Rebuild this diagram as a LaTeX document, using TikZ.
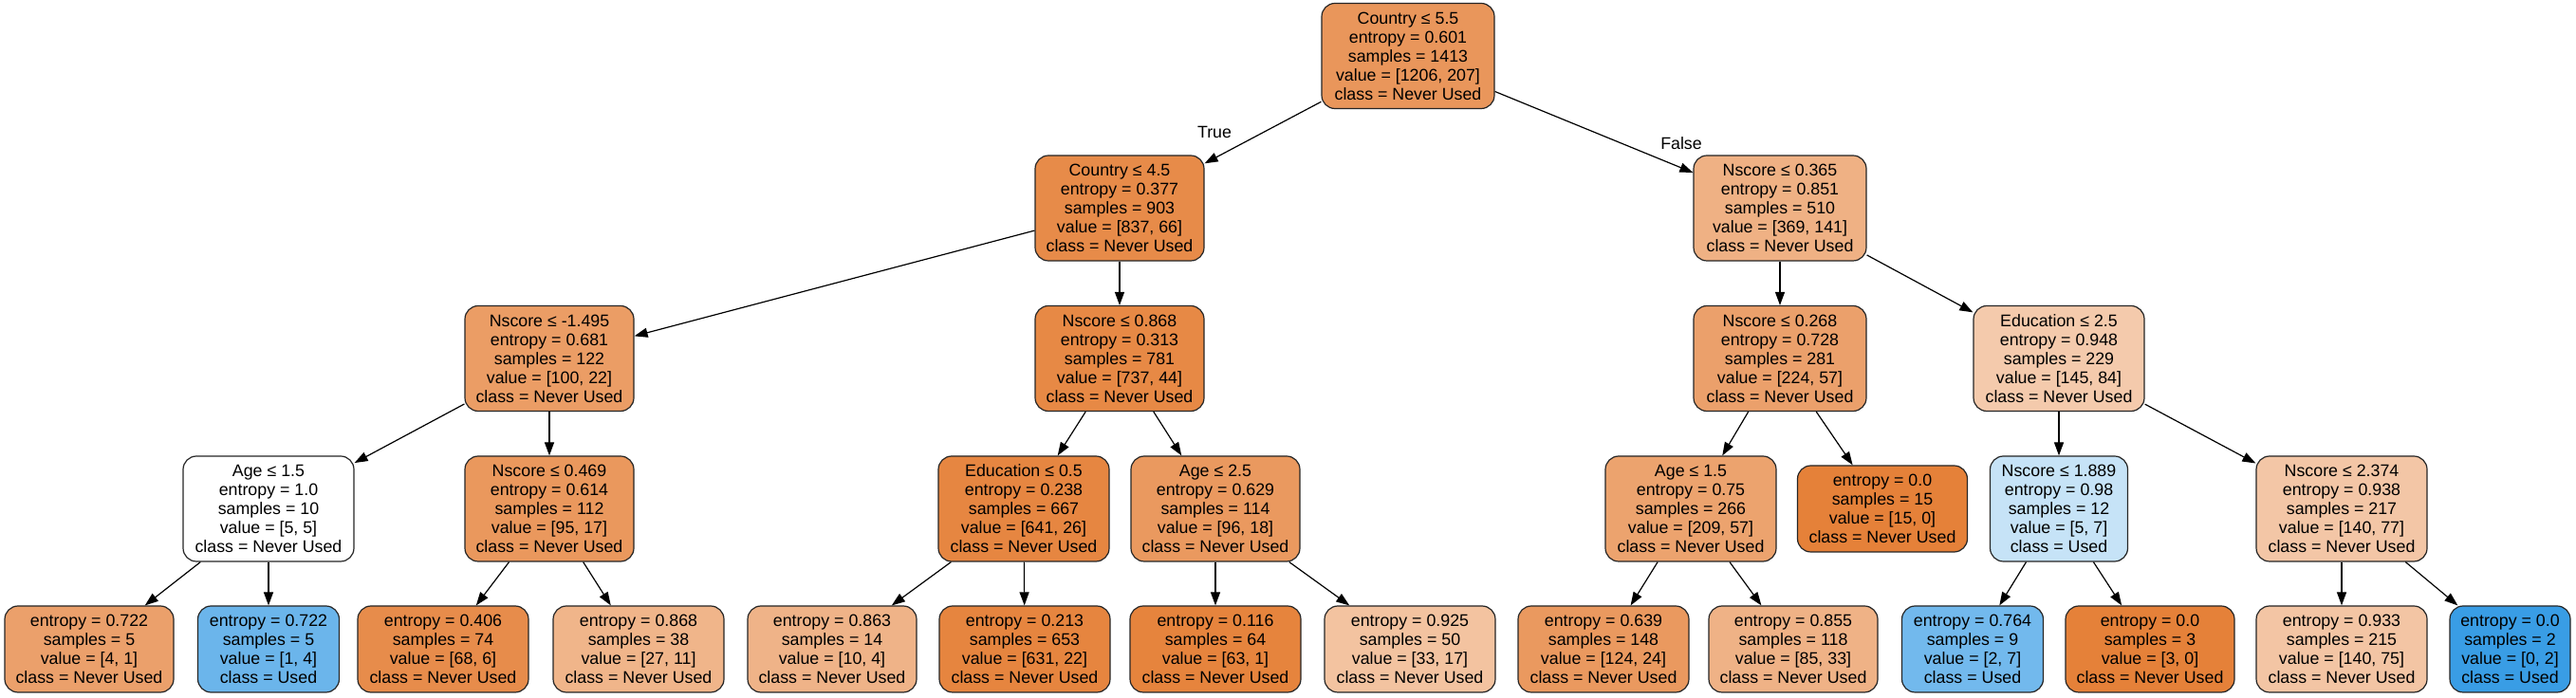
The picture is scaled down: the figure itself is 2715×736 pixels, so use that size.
\documentclass[tikz,border=0pt]{standalone}
\usepackage{fontspec}
\setmainfont{Liberation Sans}
\usetikzlibrary{arrows.meta}
\definecolor{orng}{RGB}{229,129,57}
\definecolor{blu}{RGB}{57,157,229}
\begin{document}
\begin{tikzpicture}[x=1pt,y=1pt,
  tn/.style={draw=black!85, line width=1.2pt, rounded corners=14pt, align=center,
    font=\fontsize{17.8}{20}\selectfont, minimum height=111pt, minimum width=180pt, inner sep=3pt},
  lf/.style={tn, minimum height=91pt},
  ed/.style={-{Triangle[length=14pt,width=10pt]}, line width=1.2pt, black},
  elab/.style={font=\fontsize{17.8}{20}\selectfont}
]
\useasboundingbox[fill=white] (0,0) rectangle (2715,736);
% level 0
\node[tn, fill=orng!83!white, minimum width=182pt] (r) at (1484,677) {Country ≤ 5.5\\entropy = 0.601\\samples = 1413\\value = [1206, 207]\\class = Never Used};
% level 1
\node[tn, fill=orng!92!white, minimum width=178pt] (a) at (1180,516.5) {Country ≤ 4.5\\entropy = 0.377\\samples = 903\\value = [837, 66]\\class = Never Used};
\node[tn, fill=orng!62!white, minimum width=182pt] (b) at (1876,516.5) {Nscore ≤ 0.365\\entropy = 0.851\\samples = 510\\value = [369, 141]\\class = Never Used};
% level 2
\node[tn, fill=orng!78!white, minimum width=178pt] (c) at (579,358) {Nscore ≤ -1.495\\entropy = 0.681\\samples = 122\\value = [100, 22]\\class = Never Used};
\node[tn, fill=orng!94!white, minimum width=178pt] (d) at (1180,358) {Nscore ≤ 0.868\\entropy = 0.313\\samples = 781\\value = [737, 44]\\class = Never Used};
\node[tn, fill=orng!75!white, minimum width=182pt] (e) at (1876,358) {Nscore ≤ 0.268\\entropy = 0.728\\samples = 281\\value = [224, 57]\\class = Never Used};
\node[tn, fill=orng!42!white, minimum width=180pt] (f) at (2170,358) {Education ≤ 2.5\\entropy = 0.948\\samples = 229\\value = [145, 84]\\class = Never Used};
% level 3
\node[tn, fill=white, minimum width=180pt] (g) at (283,199.5) {Age ≤ 1.5\\entropy = 1.0\\samples = 10\\value = [5, 5]\\class = Never Used};
\node[tn, fill=orng!82!white, minimum width=178pt] (h) at (579,199.5) {Nscore ≤ 0.469\\entropy = 0.614\\samples = 112\\value = [95, 17]\\class = Never Used};
\node[tn, fill=orng!96!white, minimum width=180pt] (i) at (1079,199.5) {Education ≤ 0.5\\entropy = 0.238\\samples = 667\\value = [641, 26]\\class = Never Used};
\node[tn, fill=orng!81!white, minimum width=178pt] (j) at (1281,199.5) {Age ≤ 2.5\\entropy = 0.629\\samples = 114\\value = [96, 18]\\class = Never Used};
\node[tn, fill=orng!73!white, minimum width=180pt] (k) at (1782,199.5) {Age ≤ 1.5\\entropy = 0.75\\samples = 266\\value = [209, 57]\\class = Never Used};
\node[lf, fill=orng, minimum width=179pt] (l) at (1984,199.5) {entropy = 0.0\\samples = 15\\value = [15, 0]\\class = Never Used};
\node[tn, fill=blu!29!white, minimum width=145pt] (m) at (2170,199.5) {Nscore ≤ 1.889\\entropy = 0.98\\samples = 12\\value = [5, 7]\\class = Used};
\node[tn, fill=orng!45!white, minimum width=180pt] (n) at (2468,199.5) {Nscore ≤ 2.374\\entropy = 0.938\\samples = 217\\value = [140, 77]\\class = Never Used};
% level 4 leaves
\node[lf, fill=orng!75!white, minimum width=178pt] (l1) at (94,51.5) {entropy = 0.722\\samples = 5\\value = [4, 1]\\class = Never Used};
\node[lf, fill=blu!75!white, minimum width=149pt] (l2) at (283,51.5) {entropy = 0.722\\samples = 5\\value = [1, 4]\\class = Used};
\node[lf, fill=orng!91!white, minimum width=180pt] (l3) at (467,51.5) {entropy = 0.406\\samples = 74\\value = [68, 6]\\class = Never Used};
\node[lf, fill=orng!59!white, minimum width=180pt] (l4) at (673,51.5) {entropy = 0.868\\samples = 38\\value = [27, 11]\\class = Never Used};
\node[lf, fill=orng!60!white, minimum width=178pt] (l5) at (877,51.5) {entropy = 0.863\\samples = 14\\value = [10, 4]\\class = Never Used};
\node[lf, fill=orng!97!white, minimum width=180pt] (l6) at (1080,51.5) {entropy = 0.213\\samples = 653\\value = [631, 22]\\class = Never Used};
\node[lf, fill=orng!98!white, minimum width=180pt] (l7) at (1281,51.5) {entropy = 0.116\\samples = 64\\value = [63, 1]\\class = Never Used};
\node[lf, fill=orng!48!white, minimum width=180pt] (l8) at (1486,51.5) {entropy = 0.925\\samples = 50\\value = [33, 17]\\class = Never Used};
\node[lf, fill=orng!81!white, minimum width=180pt] (l9) at (1690,51.5) {entropy = 0.639\\samples = 148\\value = [124, 24]\\class = Never Used};
\node[lf, fill=orng!61!white, minimum width=178pt] (l10) at (1890,51.5) {entropy = 0.855\\samples = 118\\value = [85, 33]\\class = Never Used};
\node[lf, fill=blu!71!white, minimum width=149pt] (l11) at (2079,51.5) {entropy = 0.764\\samples = 9\\value = [2, 7]\\class = Used};
\node[lf, fill=orng, minimum width=178pt] (l12) at (2266,51.5) {entropy = 0.0\\samples = 3\\value = [3, 0]\\class = Never Used};
\node[lf, fill=orng!46!white, minimum width=180pt] (l13) at (2468,51.5) {entropy = 0.933\\samples = 215\\value = [140, 75]\\class = Never Used};
\node[lf, fill=blu, minimum width=127pt] (l14) at (2645.5,51.5) {entropy = 0.0\\samples = 2\\value = [0, 2]\\class = Used};
% edge labels
\node[elab] (tt) at (1280,597) {True};
\node[elab] (ff) at (1772,585) {False};
% edges
\draw[ed] (r) -- (a);
\draw[ed] (r) -- (b);
\draw[ed] (a) -- (c);
\draw[ed] (a) -- (d);
\draw[ed] (b) -- (e);
\draw[ed] (b) -- (f);
\draw[ed] (c) -- (g);
\draw[ed] (c) -- (h);
\draw[ed] (d) -- (i);
\draw[ed] (d) -- (j);
\draw[ed] (e) -- (k);
\draw[ed] (e) -- (l);
\draw[ed] (f) -- (m);
\draw[ed] (f) -- (n);
\draw[ed] (g) -- (l1);
\draw[ed] (g) -- (l2);
\draw[ed] (h) -- (l3);
\draw[ed] (h) -- (l4);
\draw[ed] (i) -- (l5);
\draw[ed] (i) -- (l6);
\draw[ed] (j) -- (l7);
\draw[ed] (j) -- (l8);
\draw[ed] (k) -- (l9);
\draw[ed] (k) -- (l10);
\draw[ed] (m) -- (l11);
\draw[ed] (m) -- (l12);
\draw[ed] (n) -- (l13);
\draw[ed] (n) -- (l14);
\end{tikzpicture}
\end{document}
